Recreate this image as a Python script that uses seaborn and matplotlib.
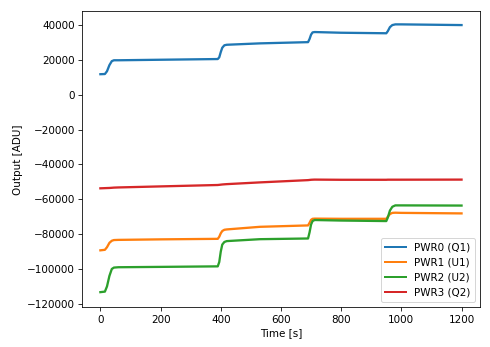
import matplotlib
matplotlib.use("Agg")
import matplotlib.pyplot as plt
import seaborn as sns
import pandas as pd

time_s = [0, 15, 22, 30, 38, 45, 60, 200, 390, 395, 400, 405, 412, 420, 530,
          690, 695, 700, 705, 712, 800, 950, 955, 962, 970, 980, 1000, 1200]

pwr0 = [11800, 11900, 13500, 17000, 19300, 19800, 19800, 20100, 20500, 21500,
        24500, 27000, 28400, 28700, 29500, 30200, 32000, 34500, 35800, 36000,
        35600, 35300, 36500, 38800, 40000, 40400, 40400, 40000]
pwr1 = [-89300, -89000, -87500, -85000, -83800, -83400, -83300, -83000, -82700,
        -81500, -79500, -78200, -77500, -77300, -75800, -75000, -73500, -71800,
        -71200, -71100, -71200, -71200, -70000, -68500, -67800, -67700, -67800,
        -68100]
pwr2 = [-113300, -113000, -110000, -104000, -100000, -99200, -99000, -98800,
        -98500, -96000, -90000, -86000, -84500, -84000, -82900, -82500, -79000,
        -74500, -72500, -71900, -72200, -72500, -70500, -66500, -64300, -63500,
        -63500, -63600]
pwr3 = [-53700, -53600, -53550, -53500, -53400, -53300, -53200, -52600, -51800,
        -51700, -51600, -51500, -51400, -51300, -50300, -49000, -48900, -48800,
        -48750, -48700, -48800, -48800, -48750, -48750, -48750, -48750, -48750,
        -48700]

labels = ["PWR0 (Q1)", "PWR1 (U1)", "PWR2 (U2)", "PWR3 (Q2)"]
series = [pwr0, pwr1, pwr2, pwr3]
colors = ["#1f77b4", "#ff7f0e", "#2ca02c", "#d62728"]

plt.rcParams.update({
    "font.size": 10.4,
    "xtick.major.size": 3.6,
    "ytick.major.size": 3.6,
    "xtick.major.pad": 3.6,
    "ytick.major.pad": 3.6,
})

DPI = 72
fig = plt.figure(figsize=(490 / DPI, 347 / DPI), dpi=DPI)
ax = fig.add_axes([0.168, 0.1144, 0.812, 0.853])

for lab, vals, col in zip(labels, series, colors):
    df = pd.DataFrame({"t": time_s, "v": vals})
    sns.lineplot(data=df, x="t", y="v", ax=ax, color=col, linewidth=2.3,
                 label=lab)

ax.set_xlabel("Time [s]")
ax.set_ylabel("Output [ADU]")
ax.set_xticks([0, 200, 400, 600, 800, 1000, 1200])
ax.set_yticks(list(range(-120000, 40001, 20000)))
ax.set_xlim(-60, 1262)
ax.set_ylim(-122000, 47900)
leg = ax.legend(loc="lower right")
for h in leg.get_lines():
    h.set_linewidth(2.0)

fig.savefig("out.png", dpi=DPI)
